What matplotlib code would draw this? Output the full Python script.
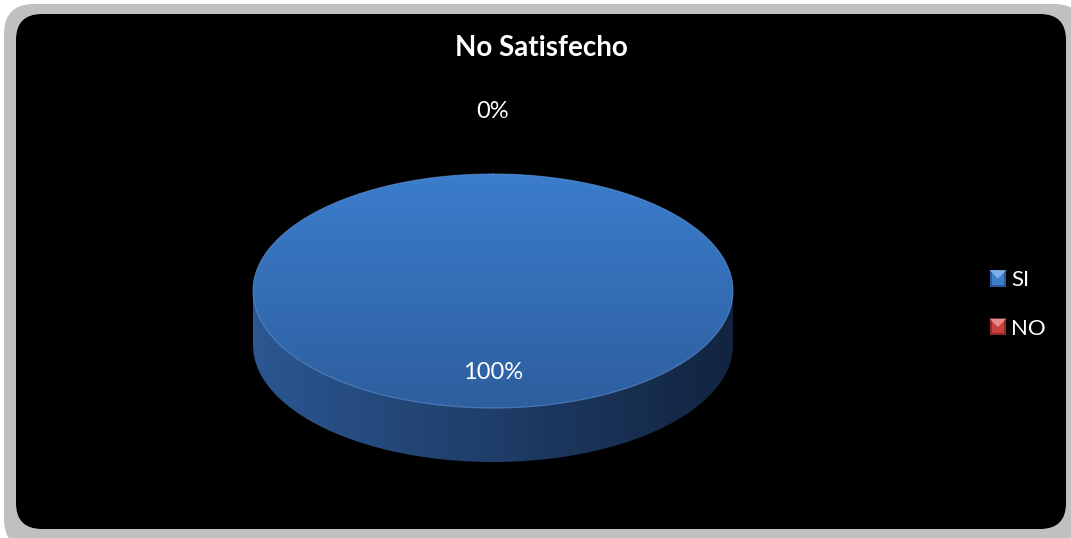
import numpy as np
import matplotlib
matplotlib.use("Agg")
import matplotlib.pyplot as plt
from matplotlib.patches import FancyBboxPatch, Polygon, Rectangle
from matplotlib.legend_handler import HandlerBase

# Chart data
title = "No Satisfecho"
categories = ["SI", "NO"]
values = [100, 0]
labels = ["100%", "0%"]

top_colors = [((0.23, 0.49, 0.80), (0.18, 0.37, 0.62)),
              ((0.80, 0.25, 0.25), (0.60, 0.16, 0.16))]
side_colors = [((0.17, 0.34, 0.57), (0.07, 0.14, 0.25)),
               ((0.55, 0.16, 0.16), (0.30, 0.08, 0.08))]
legend_colors = [("#3f7fc8", "#2a5a99", "#7fb0e6"), ("#c84040", "#962828", "#ee8a8a")]

W, H = 1071, 538
fig = plt.figure(figsize=(W / 100, H / 100), dpi=100)
fig.patch.set_facecolor("white")
ax = fig.add_axes([0, 0, 1, 1])
ax.set_xlim(0, W)
ax.set_ylim(H, 0)
ax.axis("off")

# Chart frame
ax.add_patch(FancyBboxPatch((4 + 30, 4 + 30), 1080 - 60, 545 - 60,
                            boxstyle="round,pad=30", fc="#c0c0c0", ec="none"))
ax.add_patch(FancyBboxPatch((16 + 26, 14 + 26), 1050 - 52, 515 - 52,
                            boxstyle="round,pad=26", fc="black", ec="none"))

ax.text(541, 48, title, color="white", fontsize=20, fontweight="bold",
        family="Lato", ha="center", va="center")

# 3D pie geometry
cx, cy, rx, ry, depth = 493, 291, 240, 117, 54


def ellipse_pt(t, dy=0.0):
    return cx + rx * np.cos(t), cy - ry * np.sin(t) + dy


def gradient_fill(patch, c0, c1, horizontal=False, extent=None):
    n = 256
    g = np.linspace(0, 1, n)
    c0, c1 = np.array(c0), np.array(c1)
    img = c0[None, :] + (c1 - c0)[None, :] * g[:, None]
    if horizontal:
        img = img[None, :, :]
    else:
        img = img[:, None, :]
    im = ax.imshow(img, extent=extent, origin="upper", aspect="auto",
                   interpolation="bilinear", zorder=patch.get_zorder())
    im.set_clip_path(patch)


total = float(sum(values))
start = np.pi / 2
angles = []
for v in values:
    sweep = 2 * np.pi * v / total
    angles.append((start - sweep, start))
    start -= sweep

# Sides (front half only, angles between pi and 2pi)
for i, (a0, a1) in enumerate(angles):
    if a1 - a0 <= 0:
        continue
    for k in range(-1, 2):
        lo = max(a0, np.pi + 2 * np.pi * k)
        hi = min(a1, 2 * np.pi + 2 * np.pi * k)
        if hi <= lo:
            continue
        t = np.linspace(lo, hi, 300)
        xt, yt = ellipse_pt(t)
        xb, yb = ellipse_pt(t[::-1], depth)
        side = Polygon(np.column_stack([np.r_[xt, xb], np.r_[yt, yb]]),
                       closed=True, fc="none", ec="none", zorder=2)
        ax.add_patch(side)
        gradient_fill(side, side_colors[i][0], side_colors[i][1], horizontal=True,
                      extent=(cx - rx, cx + rx, cy + ry + depth, cy - ry))

# Top faces
for i, (a0, a1) in enumerate(angles):
    if a1 - a0 <= 0:
        continue
    t = np.linspace(a0, a1, 600)
    xs, ys = ellipse_pt(t)
    if a1 - a0 < 2 * np.pi - 1e-9:
        xs, ys = np.r_[cx, xs], np.r_[cy, ys]
    top = Polygon(np.column_stack([xs, ys]), closed=True, fc="none",
                  ec="none", zorder=3)
    ax.add_patch(top)
    gradient_fill(top, top_colors[i][0], top_colors[i][1],
                  extent=(cx - rx, cx + rx, cy + ry, cy - ry))
    ax.plot(xs, ys, color=(0.40, 0.62, 0.90), lw=0.8, alpha=0.6, zorder=4)

# Data labels
for i, (a0, a1) in enumerate(angles):
    mid = (a0 + a1) / 2
    r = 0.70 if values[i] > 0 else 1.53
    x, y = cx + r * rx * np.cos(mid), cy - r * ry * np.sin(mid)
    ax.text(x, y, labels[i], color="white", fontsize=17, family="Lato",
            ha="center", va="center", zorder=5)


# Legend with bevelled square keys
class BevelKey:
    def __init__(self, colors):
        self.colors = colors


class HandlerBevel(HandlerBase):
    def create_artists(self, legend, orig_handle, xdescent, ydescent,
                       width, height, fontsize, trans):
        base, dark, light = orig_handle.colors
        s = 12
        x0 = width - s
        y0 = (height - s) / 2
        sq = Rectangle((x0, y0), s, s, fc=dark, ec="none", transform=trans)
        inner = Rectangle((x0 + 1.5, y0 + 1.5), s - 3, s - 3, fc=base,
                          ec="none", transform=trans)
        tri = Polygon([(x0, y0 + s), (x0 + s, y0 + s), (x0 + s / 2, y0 + s / 2)],
                      closed=True, fc=light, ec="none", transform=trans)
        return [sq, inner, tri]


handles = [BevelKey(c) for c in legend_colors]
leg = fig.legend(handles, categories, handler_map={BevelKey: HandlerBevel()},
                 loc="center left", bbox_to_anchor=(990 / W, 1 - 304.5 / H),
                 frameon=False, prop={"family": "Lato", "size": 16},
                 labelcolor="white", handlelength=0.73, handletextpad=0.22,
                 labelspacing=1.28, borderpad=0, borderaxespad=0)

fig.savefig("out.png", dpi=100, facecolor=fig.get_facecolor())
